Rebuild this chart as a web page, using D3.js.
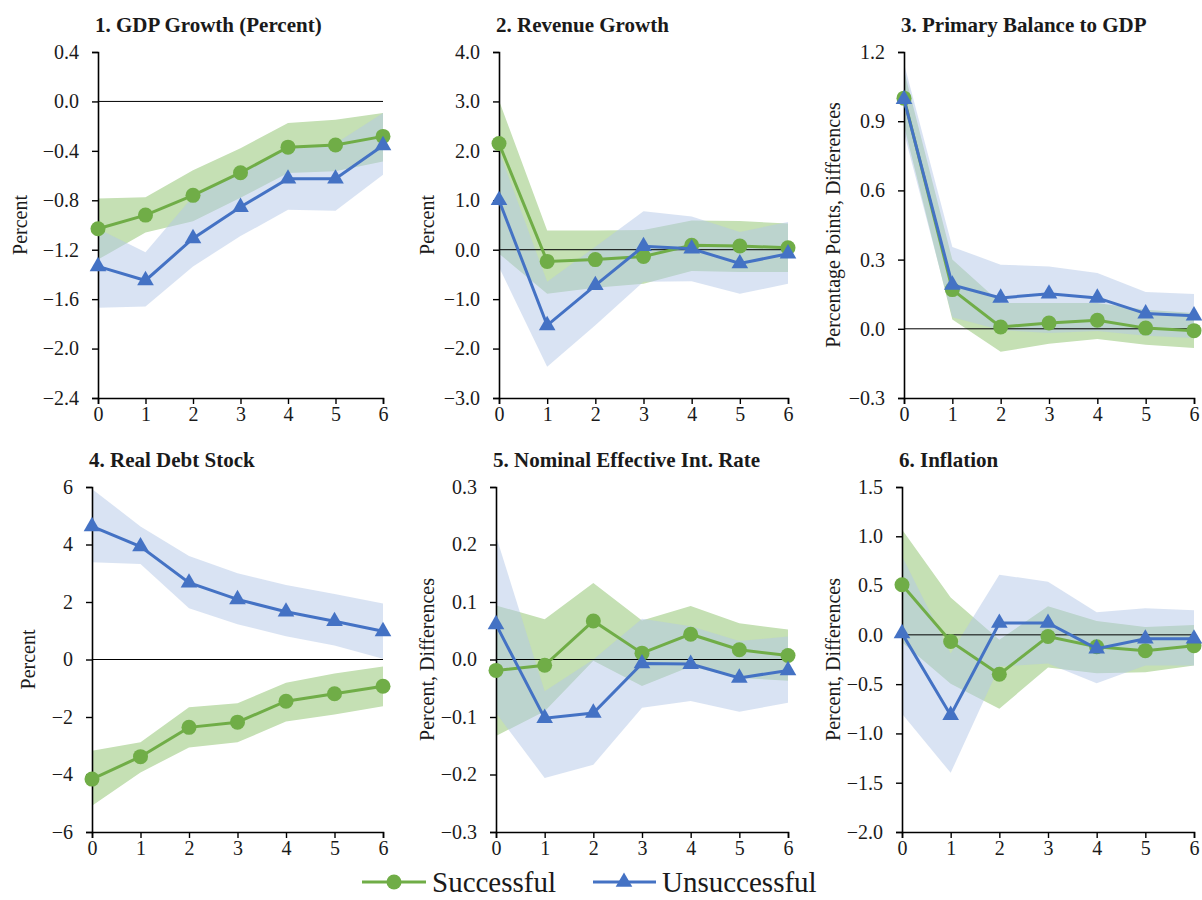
<!DOCTYPE html>
<html>
<head>
<meta charset="utf-8">
<script src="https://cdn.jsdelivr.net/npm/d3@7"></script>
<style>
    body { margin: 0; background: #fff; }
    svg text { font-family: "Liberation Serif", "Times New Roman", serif; fill: #1a1a1a; }
</style>
</head>
<body>
<script>
// horizons (years after the event)
var horizon = [0, 1, 2, 3, 4, 5, 6];
var seriesNames = ["Successful", "Unsuccessful"];

// 1. GDP growth
var gdpS   = [-1.03, -0.92, -0.76, -0.577, -0.37, -0.353, -0.283];
var gdpSHi = [-0.786, -0.775, -0.557, -0.378, -0.175, -0.148, -0.094];
var gdpSLo = [-1.28, -1.06, -0.97, -0.78, -0.58, -0.566, -0.486];
var gdpU   = [-1.335, -1.449, -1.109, -0.855, -0.626, -0.626, -0.356];
var gdpUHi = [-1.03, -1.22, -0.77, -0.58, -0.38, -0.34, -0.094];
var gdpULo = [-1.67, -1.66, -1.335, -1.09, -0.877, -0.885, -0.593];
var gdpTicks = [0.4, 0.0, -0.4, -0.8, -1.2, -1.6, -2.0, -2.4];

// 2. Revenue growth
var revS   = [2.15, -0.236, -0.2, -0.135, 0.088, 0.074, 0.04];
var revSHi = [3.02, 0.39, 0.39, 0.40, 0.59, 0.58, 0.53];
var revSLo = [-0.08, -0.89, -0.77, -0.69, -0.43, -0.45, -0.45];
var revU   = [1.0, -1.53, -0.72, 0.07, 0.02, -0.28, -0.08];
var revUHi = [2.0, -0.65, 0.06, 0.78, 0.67, 0.36, 0.56];
var revULo = [-0.35, -2.37, -1.53, -0.65, -0.64, -0.89, -0.69];
var revTicks = [4, 3, 2, 1, 0, -1, -2, -3];

// 3. Primary balance to GDP
var pbS   = [1.0, 0.17, 0.008, 0.025, 0.037, 0.003, -0.008];
var pbSHi = [1.12, 0.30, 0.112, 0.112, 0.112, 0.083, 0.069];
var pbSLo = [0.88, 0.04, -0.10, -0.065, -0.044, -0.069, -0.083];
var pbU   = [0.995, 0.19, 0.134, 0.152, 0.134, 0.066, 0.057];
var pbUHi = [1.15, 0.355, 0.278, 0.27, 0.242, 0.16, 0.151];
var pbULo = [0.85, 0.05, -0.005, -0.018, -0.01, -0.03, -0.04];
var pbTicks = [1.2, 0.9, 0.6, 0.3, 0.0, -0.3];

// 4. Real debt stock
var debtS   = [-4.16, -3.38, -2.36, -2.18, -1.45, -1.19, -0.93];
var debtSHi = [-3.17, -2.88, -1.66, -1.52, -0.81, -0.49, -0.24];
var debtSLo = [-5.09, -3.93, -3.06, -2.88, -2.16, -1.91, -1.63];
var debtU   = [4.63, 3.93, 2.67, 2.09, 1.66, 1.33, 0.98];
var debtUHi = [5.93, 4.63, 3.6, 3.0, 2.59, 2.28, 1.95];
var debtULo = [3.38, 3.32, 1.78, 1.23, 0.81, 0.49, 0.03];
var debtTicks = [6, 4, 2, 0, -2, -4, -6];

// 5. Nominal effective interest rate
var irS   = [-0.019, -0.01, 0.067, 0.011, 0.044, 0.017, 0.007];
var irSHi = [0.094, 0.07, 0.133, 0.068, 0.093, 0.063, 0.052];
var irSLo = [-0.133, -0.09, -0.002, -0.046, -0.012, -0.032, -0.037];
var irU   = [0.061, -0.102, -0.093, -0.007, -0.008, -0.032, -0.019];
var irUHi = [0.215, -0.055, 0.0, 0.071, 0.058, 0.032, 0.04];
var irULo = [-0.093, -0.206, -0.183, -0.084, -0.072, -0.091, -0.075];
var irTicks = [0.3, 0.2, 0.1, 0.0, -0.1, -0.2, -0.3];

// 6. Inflation
var infS   = [0.508, -0.067, -0.40, -0.017, -0.12, -0.16, -0.11];
var infSHi = [1.07, 0.38, -0.05, 0.29, 0.14, 0.08, 0.10];
var infSLo = [-0.074, -0.495, -0.75, -0.33, -0.39, -0.38, -0.31];
var infU   = [0.015, -0.815, 0.12, 0.12, -0.14, -0.04, -0.04];
var infUHi = [0.80, -0.19, 0.61, 0.54, 0.23, 0.27, 0.25];
var infULo = [-0.80, -1.40, -0.32, -0.29, -0.49, -0.31, -0.31];
var infTicks = [1.5, 1.0, 0.5, 0.0, -0.5, -1.0, -1.5, -2.0];

var green = "#70AD47", greenBand = "#C5E0B4";
var blue = "#4472C4", blueBand = "#B4C7E7";

var panels = [
    {title: "1. GDP Growth (Percent)", ylab: "Percent", ticks: gdpTicks, fmt: ".1f",
     s: gdpS, sHi: gdpSHi, sLo: gdpSLo, u: gdpU, uHi: gdpUHi, uLo: gdpULo,
     x0: 98, x1: 383, y0: 52, y1: 398, labX: 20},
    {title: "2. Revenue Growth", ylab: "Percent", ticks: revTicks, fmt: ".1f",
     s: revS, sHi: revSHi, sLo: revSLo, u: revU, uHi: revUHi, uLo: revULo,
     x0: 499, x1: 788, y0: 52, y1: 398, labX: 427},
    {title: "3. Primary Balance to GDP", ylab: "Percentage Points, Differences", ticks: pbTicks, fmt: ".1f",
     s: pbS, sHi: pbSHi, sLo: pbSLo, u: pbU, uHi: pbUHi, uLo: pbULo,
     x0: 904, x1: 1194, y0: 52, y1: 398, labX: 833},
    {title: "4. Real Debt Stock", ylab: "Percent", ticks: debtTicks, fmt: "d",
     s: debtS, sHi: debtSHi, sLo: debtSLo, u: debtU, uHi: debtUHi, uLo: debtULo,
     x0: 92, x1: 383, y0: 487, y1: 832, labX: 28},
    {title: "5. Nominal Effective Int. Rate", ylab: "Percent, Differences", ticks: irTicks, fmt: ".1f",
     s: irS, sHi: irSHi, sLo: irSLo, u: irU, uHi: irUHi, uLo: irULo,
     x0: 496, x1: 788, y0: 487, y1: 832, labX: 427},
    {title: "6. Inflation", ylab: "Percent, Differences", ticks: infTicks, fmt: ".1f",
     s: infS, sHi: infSHi, sLo: infSLo, u: infU, uHi: infUHi, uLo: infULo,
     x0: 902, x1: 1194, y0: 487, y1: 832, labX: 833}
];

var svg = d3.select("body")
    .append("svg")
    .attr("width", 1202)
    .attr("height", 900);

var triangle = d3.symbol().type(d3.symbolTriangle).size(120);

panels.forEach(function(p)
{
    var x = d3.scaleLinear().domain([0, 6]).range([p.x0, p.x1]);
    var y = d3.scaleLinear()
        .domain([d3.min(p.ticks), d3.max(p.ticks)])
        .range([p.y1, p.y0]);
    var g = svg.append("g");

    var area = function(lo, hi)
    {
        return d3.area()
            .x(function(d) { return x(d); })
            .y0(function(d, i) { return y(lo[i]); })
            .y1(function(d, i) { return y(hi[i]); })(horizon);
    };
    var line = d3.line()
        .x(function(d, i) { return x(horizon[i]); })
        .y(function(d) { return y(d); });

    // confidence bands
    g.append("path").attr("d", area(p.sLo, p.sHi)).attr("fill", greenBand);
    g.append("path").attr("d", area(p.uLo, p.uHi))
        .attr("fill", blueBand).attr("fill-opacity", 0.5);

    // zero line
    g.append("line")
        .attr("x1", p.x0).attr("x2", p.x1)
        .attr("y1", y(0)).attr("y2", y(0))
        .attr("stroke", "#000").attr("stroke-width", 1);

    // axes
    var yAxis = g.append("g")
        .attr("transform", "translate(" + p.x0 + ",0)")
        .call(d3.axisLeft(y).tickValues(p.ticks)
            .tickFormat(d3.format(p.fmt)).tickSize(6).tickPadding(13));
    var xAxis = g.append("g")
        .attr("transform", "translate(0," + p.y1 + ")")
        .call(d3.axisBottom(x).tickValues(horizon)
            .tickFormat(d3.format("d")).tickSize(6).tickPadding(3));
    [yAxis, xAxis].forEach(function(a)
    {
        a.attr("font-size", null).attr("font-family", null);
        a.select(".domain").attr("stroke", "#000").attr("stroke-width", 1.6);
        a.selectAll(".tick line").attr("stroke", "#000").attr("stroke-width", 1.4);
        a.selectAll("text").style("font-size", "20px").attr("fill", "#1a1a1a");
    });

    // series lines and markers
    g.append("path").attr("d", line(p.s))
        .attr("fill", "none").attr("stroke", green).attr("stroke-width", 3);
    g.selectAll(".dot").data(p.s).enter().append("circle")
        .attr("cx", function(d, i) { return x(horizon[i]); })
        .attr("cy", function(d) { return y(d); })
        .attr("r", 7.5).attr("fill", green);
    g.append("path").attr("d", line(p.u))
        .attr("fill", "none").attr("stroke", blue).attr("stroke-width", 3);
    g.selectAll(".tri").data(p.u).enter().append("path")
        .attr("d", triangle)
        .attr("transform", function(d, i)
        {
            return "translate(" + x(horizon[i]) + "," + y(d) + ")";
        })
        .attr("fill", blue);

    // title
    g.append("text")
        .attr("x", p.x0 - 3)
        .attr("y", p.y0 - 20)
        .style("font-size", "21px")
        .attr("font-weight", "bold")
        .text(p.title);

    // y axis title
    g.append("text")
        .attr("transform", "translate(" + p.labX + "," + ((p.y0 + p.y1) / 2) + ") rotate(-90)")
        .attr("text-anchor", "middle")
        .attr("dy", "0.35em")
        .style("font-size", "20px")
        .text(p.ylab);
});

// legend
var legend = svg.append("g").attr("transform", "translate(0,882)");
legend.append("line").attr("x1", 362).attr("x2", 426)
    .attr("stroke", green).attr("stroke-width", 3);
legend.append("circle").attr("cx", 394).attr("r", 7.5).attr("fill", green);
legend.append("text").attr("x", 432).attr("dy", "0.33em")
    .style("font-size", "29px").text(seriesNames[0]);
legend.append("line").attr("x1", 593).attr("x2", 656)
    .attr("stroke", blue).attr("stroke-width", 3);
legend.append("path").attr("d", triangle)
    .attr("transform", "translate(624,0)").attr("fill", blue);
legend.append("text").attr("x", 662).attr("dy", "0.33em")
    .style("font-size", "29px").text(seriesNames[1]);
</script>
</body>
</html>
